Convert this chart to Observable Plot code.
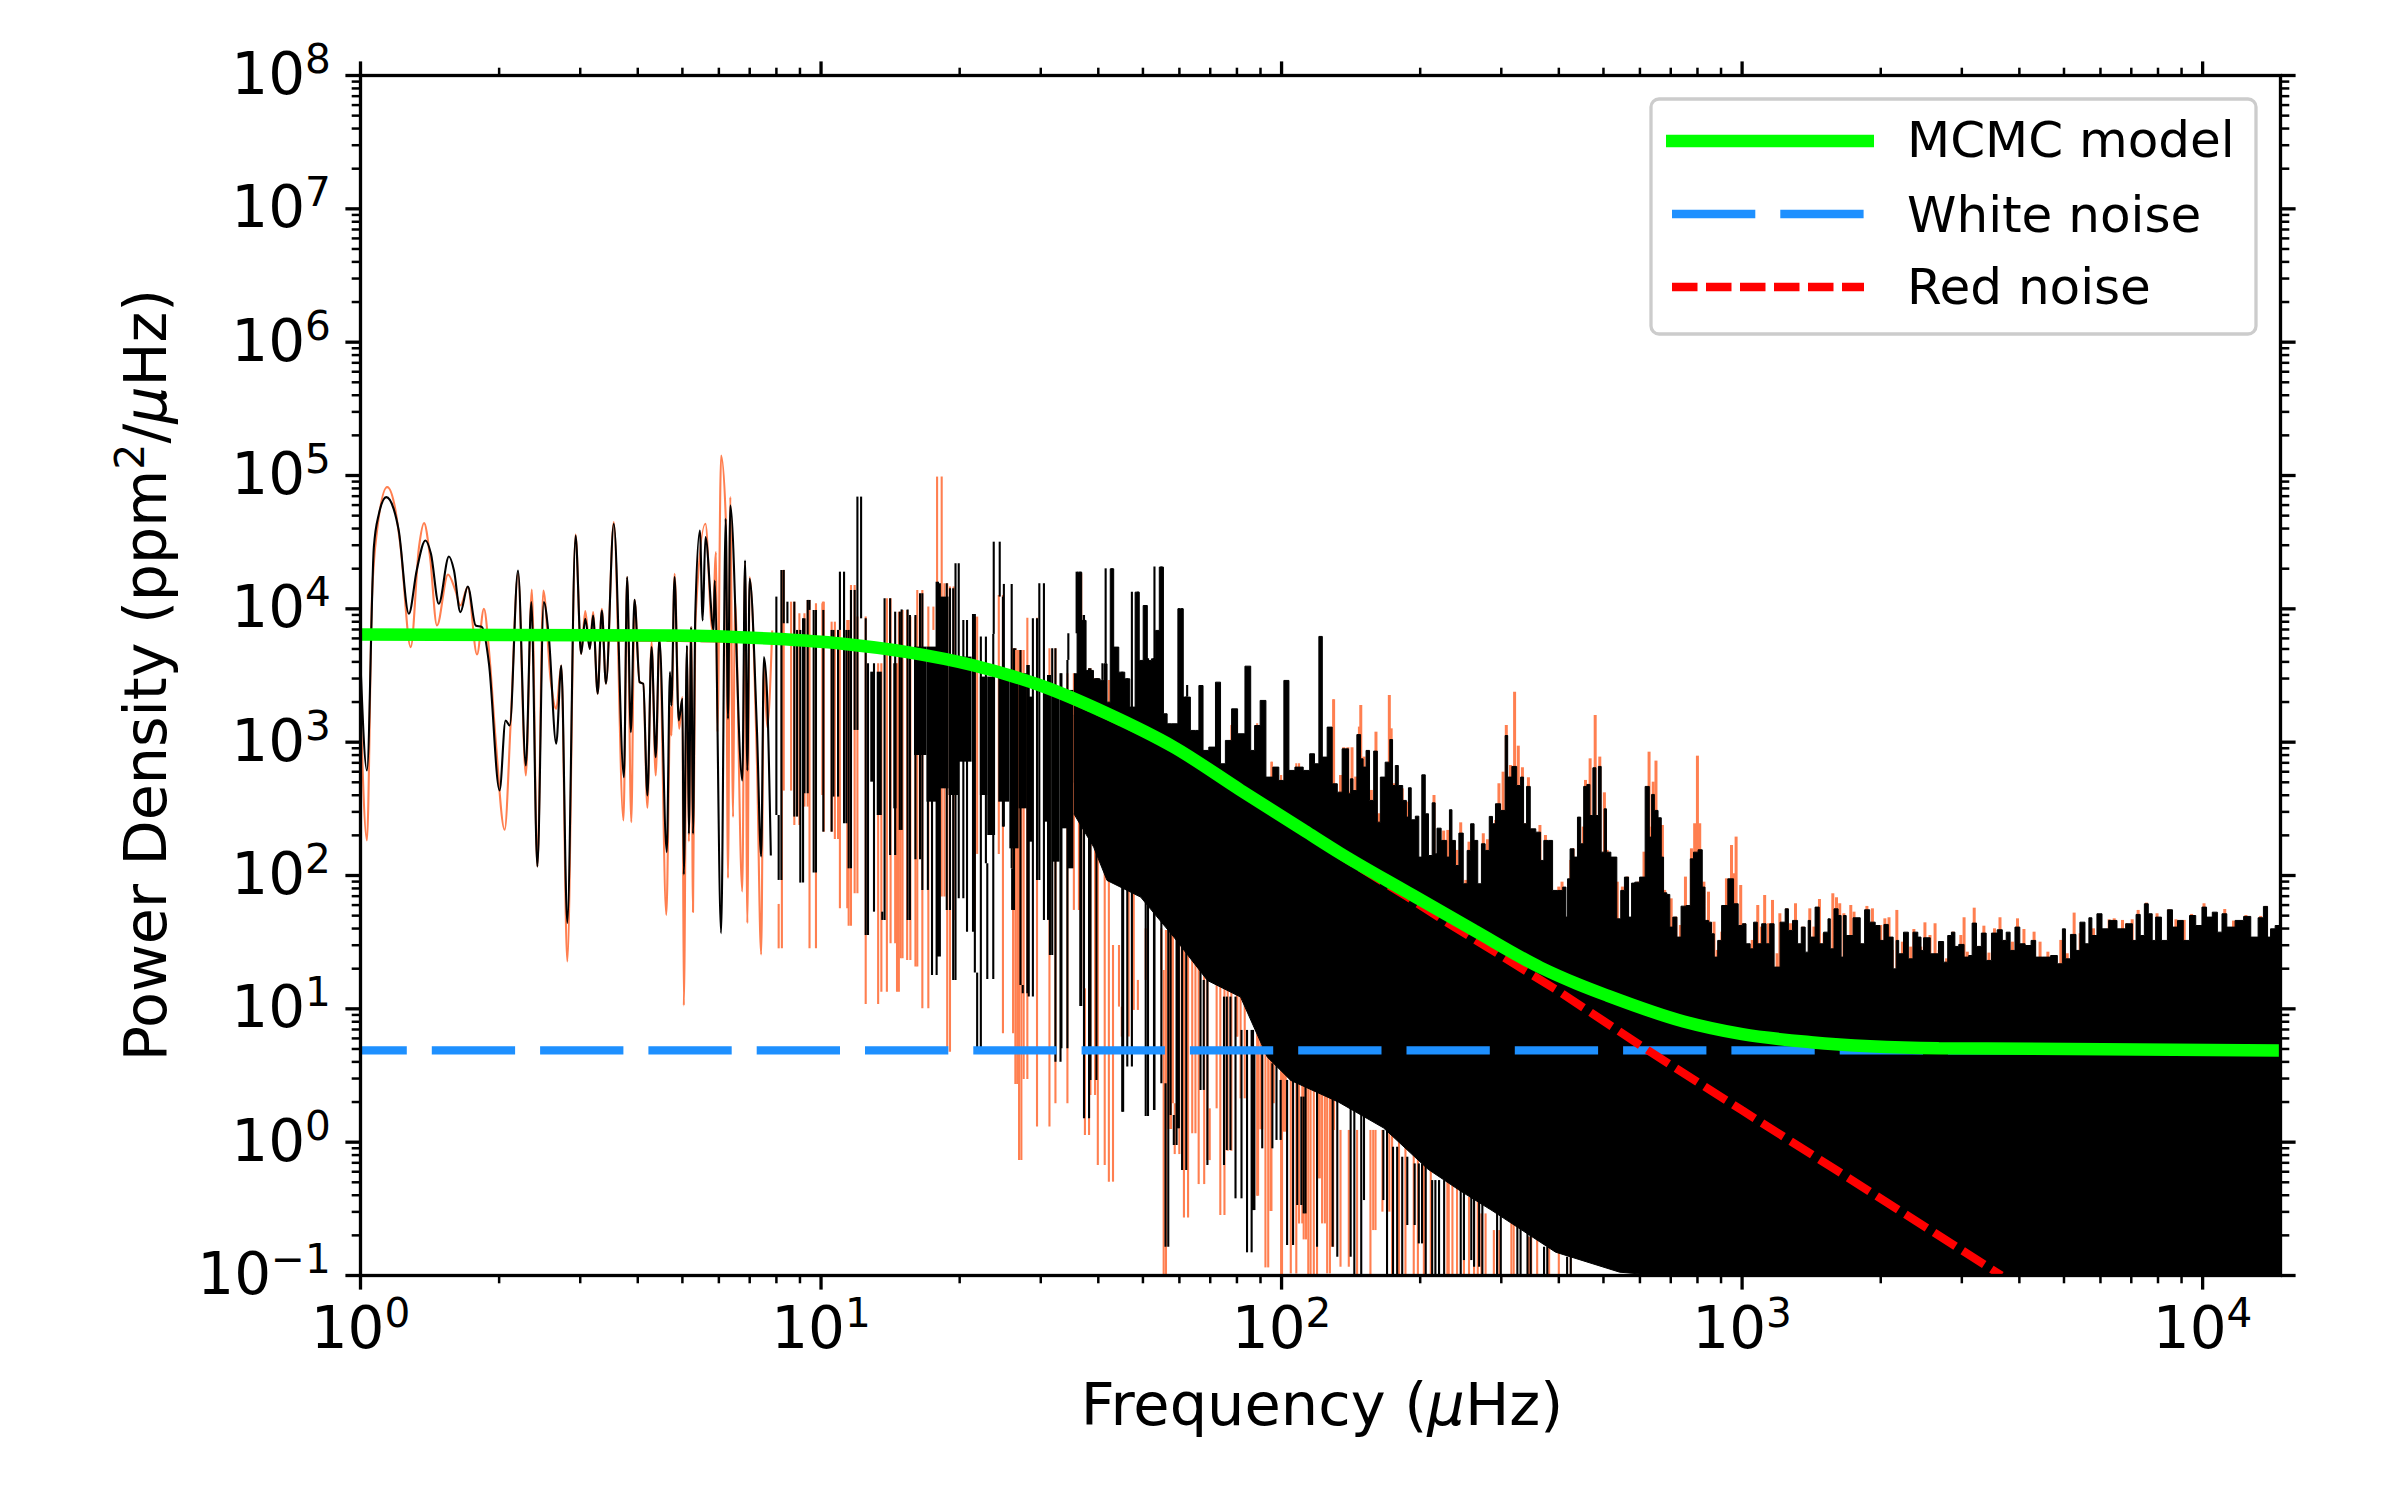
<!DOCTYPE html>
<html lang="en">
<head>
<meta charset="UTF-8">
<title>Power density spectrum</title>
<script src="https://cdn.jsdelivr.net/npm/d3@7"></script>
<script src="https://cdn.jsdelivr.net/npm/@observablehq/plot@0.6"></script>
<style>
  body { margin: 0; background: white; }
</style>
</head>
<body>
<div id="graph"></div>
<script>
// values, as [log10 frequency, log10 power]
const blackSpikes = [[0,3.588],[.014,2.788],[.029,4.463],[.04,4.713],[.056,4.838],[.072,4.75],[.083,4.588],[.105,3.963],[.122,4.288],[.141,4.513],[.153,4.413],[.17,4.038],[.192,4.393],[.203,4.288],[.217,3.975],[.233,4.168],[.25,3.875],[.264,3.863],[.279,3.588],[.302,2.638],[.315,3.163],[.324,3.125],[.342,4.288],[.359,2.825],[.371,4.05],[.384,2.068],[.398,4.05],[.409,3.788],[.425,2.988],[.436,3.575],[.449,1.643],[.467,4.55],[.479,3.663],[.488,3.925],[.498,3.7],[.505,3.95],[.515,3.363],[.524,3.988],[.533,3.438],[.55,4.638],[.572,2.738],[.579,4.238],[.587,3.075],[.595,4.068],[.606,3.45],[.614,3.438],[.623,2.6],[.632,3.713],[.641,2.888],[.649,3.775],[.665,2.175],[.672,3.525],[.675,3.275],[.682,4.238],[.691,3.163],[.699,3.325],[.702,2.008],[.709,3.725],[.713,2.313],[.718,3.863],[.722,2.313],[.727,3.963],[.737,4.588],[.743,3.913],[.749,4.538],[.767,3.838],[.769,4.213],[.783,1.568],[.793,4.675],[.798,3.175],[.803,4.775],[.829,2.713],[.835,4.363],[.84,2.788],[.845,4.225],[.861,3.075],[.87,2.143],[.876,3.638],[.883,3.338],[.891,2.15],[.903,4.088],[.908,2.45],[.914,1.963],[.919,4.288],[.927,3.888],[.942,4.05],[.948,2.438],[.955,3.838],[.961,1.943],[.964,3.925],[.971,2.613],[.975,4.063],[.984,3.988],[.989,2.018],[1.005,3.988],[1.023,2.325],[1.027,3.838],[1.037,2.588],[1.041,3.838],
  [1.05,4.275],[1.055,2.388],[1.06,3.838],[1.065,2.05],[1.073,4.138],[1.079,3.088],[1.087,4.838],[1.097,3.925],[1.102,1.55],[1.115,3.588],[1.133,1.725],[1.138,1.663],[1.15,4.075],[1.161,2.15],[1.171,3.975],[1.175,2.338],[1.188,3.992],[1.193,1.663],[1.205,3.95],[1.215,2.118],[1.22,4.113],[1.232,1.888],[1.241,3.588],[1.251,1.25],[1.254,4.2],[1.258,1.388],[1.273,4.188],[1.28,1.738],[1.287,4.15],[1.292,1.213],[1.299,4.338],[1.309,1.825],[1.317,3.913],[1.33,1.575],[1.334,3.958],[1.339,1.268],[1.347,.663],[1.358,3.788],[1.361,2.088],[1.374,1.22],[1.375,3.808],[1.388,4.5],[1.395,4.088],[1.397,2.363],[1.414,4.183],[1.415,2.05],[1.419,1.738],[1.422,3.7],[1.433,3.688],[1.438,1.175],[1.448,1.113],[1.451,3.575],[1.46,1.088],[1.469,3.925],[1.474,1.963],[1.484,4.188],[1.493,1.663],[1.497,3.5],[1.502,1.4],[1.509,3.7],[1.52,.6],[1.522,3.513],[1.535,.7],[1.537,3.613],[1.555,3.813],[1.563,4.275],[1.565,1.017],[1.571,3.95],[1.582,.175],[1.585,3.55],[1.598,.463],[1.601,3.475],[1.611,3.463],[1.618,3.588],[1.632,4.3],[1.654,3.525],[1.656,.225],[1.665,3.475],[1.675,.563],[1.688,4.125],[1.705,4.025],[1.71,.193],[1.723,3.625],[1.724,.238],[1.739,4.313],[1.748,.438],[1.754,-.788],[1.759,3],[1.766,.2],[1.772,-.025],[1.774,2.5],[1.777,.1],[1.784,4],[1.793,-.213],[1.795,3.338],[1.824,3.425],[1.831,.388],
  [1.839,1.213],[1.875,-.175],[1.881,1.088],[1.889,-.063],[1.9,1.088],[1.913,-.425],[1.925,.838],[1.935,-.83],[1.938,.838],[1.941,-.513],[1.958,.713],[1.98,-.05],[1.989,.588],[1.998,.013],[2.012,.463],[2.025,-.775],[2.034,.463],[2.043,-.475],[2.048,.338],[2.052,-.538],[2.077,.463],[2.111,-.788],[2.121,.463],[2.15,-.863],[2.158,.338],[2.173,-1],[2.179,.213],[2.221,-.438],[2.229,.088],[2.242,-1.013],[2.251,-.038],[2.262,-1.013],[2.273,-.113],[2.289,-.625],[2.298,-.163],[2.305,-.763],[2.313,-.163],[2.327,-1.013],[2.334,-.288],[2.342,-1.013],[2.353,-.288],[2.389,-1.01],[2.396,-.3],[2.412,-.888],[2.418,-.363],[2.429,-.938],[2.436,-.413],[2.468,-1.01],[2.476,-.463],[2.512,-1.01],[2.519,-.538],[2.534,-1.01],[2.541,-.663],[2.57,-1.01],[2.577,-.788],[2.62,-1.01],[2.628,-.863],[2.678,-1.01]];

const orangeSpikes = [[0,3.288],[.014,2.263],[.025,4.088],[.036,4.588],[.058,4.913],[.076,4.738],[.087,4.463],[.109,3.713],[.127,4.463],[.138,4.643],[.151,4.388],[.166,3.875],[.19,4.258],[.206,4.138],[.217,4.025],[.233,4.163],[.253,3.658],[.268,4],[.279,3.688],[.293,3.038],[.313,2.343],[.326,3.138],[.342,4.263],[.359,2.75],[.372,4.145],[.384,2.068],[.397,4.138],[.413,3.463],[.425,3.25],[.436,3.575],[.449,1.355],[.467,4.558],[.479,3.663],[.488,3.983],[.498,3.7],[.505,3.975],[.515,3.363],[.524,4],[.533,3.438],[.55,4.65],[.571,2.413],[.579,4.238],[.588,2.4],[.595,4.068],[.606,3.45],[.614,3.438],[.623,2.508],[.632,3.75],[.641,2.75],[.649,3.775],[.664,1.705],[.673,3.263],[.675,3.05],[.682,4.263],[.692,3.1],[.699,3.338],[.702,1.025],[.709,3.713],[.713,2.255],[.718,3.863],[.722,1.725],[.727,3.888],[.749,4.638],[.764,3.838],[.772,4.425],[.775,3.075],[.783,5.15],[.793,4.695],[.798,1.98],[.803,4.838],[.809,2.438],[.813,4.075],[.829,1.88],[.835,4.338],[.84,1.643],[.845,4.238],[.861,2.825],[.87,1.408],[.876,3.588],[.883,3.113],[.894,3.838],[.908,1.783],[.915,1.45],[.919,4.288],[.935,2.633],[.942,4.05],[.953,2.375],[.964,3.963],[.971,2.513],[.975,4.063],[.989,1.45],[1.003,4.038],[1.004,2.6],[1.006,4.05],[1.023,2.325],[1.03,3.9],[1.037,2.27],[1.041,3.838],[1.057,1.75],[1.06,3.913],[1.065,1.62],[1.073,4.175],[1.079,1.863],[1.097,3.938],[1.124,1.033],[1.131,3.588],[1.143,1.125],[1.151,4.075],[1.161,1.488],[1.165,3.588],[1.169,1.125],[1.173,3.975],[1.177,1.375],[1.187,3.988],[1.194,1.363],[1.205,3.938],[1.209,1.313],[1.22,4.138],[1.233,1],[1.244,4.013],[1.252,3.838],[1.262,4.988],[1.268,1.838],[1.274,4.188],[1.28,.675],[1.288,4.163],[1.334,1.663],[1.339,3.938],[1.386,2.158],[1.395,4.1],[1.417,.813],[1.422,3.7],[1.426,.433],[1.43,3.688],[1.435,-.138],[1.44,3.688],[1.448,.47],[1.469,3.93],[1.496,.113],[1.509,3.7],[1.535,.288],[1.549,3.513],[1.56,1.738],[1.565,4.263],[1.573,1.15],[1.582,.05],[1.585,3.55],[1.595,.35],[1.601,3.475],[1.616,-.175],[1.625,3.463],[1.634,-.3],[1.647,1.475],[1.653,1.013],[1.668,.788],[1.679,2.838],[1.688,.988],[1.705,1.213],[1.739,1.6],[1.744,1.288],[1.749,-1.013],[1.755,1.588],[1.76,.095],[1.764,1.588],[1.768,.288],[1.778,-.093],[1.788,1.588],[1.797,-.568],[1.806,1.588],[1.813,.063],[1.82,1.463],[1.832,-.318],[1.839,1.338],[1.844,-.138],[1.859,.25],[1.867,1.213],[1.876,-.55],[1.883,1.213],[1.891,-.068],[1.903,3.125],[1.904,.788],[1.911,1.088],[1.92,.325],[1.929,1.088],[1.947,3.138],[1.949,-.405],[1.954,.838],[1.958,.093],[1.965,.838],[1.971,-.943],[1.976,.713],[1.978,-.52],[1.979,2.85],[1.983,.288],[1.992,.713],[1.999,2.75],[2.001,-1.013],[2.005,.588],[2.009,.075],[2.02,.588],[2.032,-.988],[2.038,2.838],[2.045,-.613],[2.048,.463],[2.053,-.733],[2.058,.463],[2.063,-1.013],[2.07,.463],[2.077,-1.013],[2.08,.463],[2.083,-.275],[2.088,.463],[2.094,-.613],[2.099,.463],[2.105,-.988],[2.108,.463],[2.112,-.788],[2.114,3.318],
  [2.128,.088],[2.146,-.938],[2.164,.088],[2.193,-1.013],[2.199,.088],[2.204,-.663],[2.219,.088],[2.234,-.525],[2.24,.088],[2.255,-1.013],[2.269,.088],[2.287,-1.013],[2.296,-.038],[2.309,-1.013],[2.324,-.113],[2.36,-1.013],[2.363,-.288],[2.371,-1.013],[2.381,-.288],[2.396,-1.013],[2.407,-.413],[2.418,-1.013],[2.426,-.288],[2.434,-1.013],[2.443,-.538],[2.461,-1.013],[2.473,-.663],[2.499,-1.013],[2.504,-.463],[2.537,-1.013],[2.542,-.713],[2.555,-1.013],[2.581,-.538],[2.602,-1.013],[2.628,-.713],[2.686,-1.013]];

// upper edge of the solid part of the spectrum
const blackTop = [[1.549,3.513],[1.563,4.275],[1.569,3.913],[1.582,3.538],[1.601,3.475],[1.611,3.463],[1.618,3.588],[1.624,3.3],[1.632,4.3],[1.639,3.713],[1.654,3.525],[1.665,3.475],[1.676,3.263],[1.688,4.125],[1.694,3.613],[1.705,4.025],[1.712,3.613],[1.723,3.625],[1.73,3.838],[1.739,4.313],[1.748,3.213],[1.755,3.138],[1.766,3.138],[1.784,4],[1.789,3.338],[1.795,3.338],[1.809,3.088],[1.817,3.088],[1.824,3.425],[1.835,2.938],[1.849,2.963],[1.864,3.45],[1.871,2.838],[1.885,3.013],[1.898,3.25],[1.911,3.063],[1.93,3.57],[1.936,2.938],[1.947,3.125],[1.96,3.313],[1.972,2.738],[1.99,2.813],[1.998,2.713],[2.012,3.463],[2.02,2.788],[2.038,2.813],[2.056,2.788],[2.066,2.913],[2.077,2.838],[2.085,3.793],[2.092,2.888],[2.106,3.113],[2.114,2.688],
  [2.128,2.625],[2.135,2.95],[2.144,2.95],[2.147,2.613],[2.152,2.725],[2.158,2.637],[2.169,3.057],[2.174,2.875],[2.18,2.813],[2.187,2.938],[2.195,2.563],[2.205,2.933],[2.211,2.4],[2.218,2.738],[2.232,2.85],[2.238,3.02],[2.244,2.675],[2.25,2.825],[2.257,2.675],[2.269,2.563],[2.273,2.438],[2.278,2.658],[2.285,2.418],[2.296,2.445],[2.3,2.138],[2.309,2.755],[2.315,2.463],[2.323,2.15],[2.331,2.545],[2.336,2.163],[2.339,2.355],[2.354,2.263],[2.363,2.138],[2.366,2.493],[2.374,2.263],[2.381,2.075],[2.389,2.318],[2.4,1.938],[2.406,2.188],[2.415,2.388],[2.421,2.263],[2.431,1.938],[2.437,2.238],[2.447,2.188],[2.455,2.443],[2.461,2.388],[2.468,2.538],[2.483,2.488],[2.488,3.05],[2.494,2.738],[2.506,2.818],[2.515,2.675],[2.523,2.738],[2.528,2.388],[2.536,2.668],[2.544,2.35],[2.56,2.325],[2.565,2.113],[2.574,2.263],[2.586,2.263],[2.591,1.888],[2.606,1.888],[2.615,1.913],[2.62,1.688],[2.622,1.975],[2.631,2.2],[2.639,2.138],[2.646,2.438],[2.653,2.238],[2.659,2.668],[2.667,2.683],[2.672,2.45],[2.68,2.808],[2.685,2.45],[2.691,2.818],[2.697,2.175],[2.704,2.5],[2.707,2.175],[2.723,2.138],[2.733,1.675],[2.74,1.888],[2.749,1.988],[2.758,1.688],[2.762,1.943],[2.772,1.95],[2.783,1.988],[2.796,2.668],[2.801,2.288],[2.806,2.608],[2.813,2.488],[2.822,2.433],[2.827,2.138],[2.832,1.87],[2.841,1.858],[2.845,1.613],[2.854,1.688],[2.863,1.538],[2.872,1.77],[2.885,1.775],[2.89,2.125],[2.899,2.175],[2.91,2.193],[2.917,1.913],[2.922,1.663],[2.932,1.65],[2.935,1.563],[2.944,1.388],[2.95,1.513],[2.961,1.775],[2.977,1.975],[2.986,1.788],[2.997,1.625],[3.004,1.638],[3.013,1.488],[3.022,1.45],[3.028,1.65],[3.038,1.488],[3.047,1.638],[3.057,1.488],[3.063,1.638],[3.076,1.313],[3.089,1.65],[3.098,1.75],[3.103,1.588],[3.116,1.663],[3.125,1.488],[3.132,1.613],[3.142,1.425],[3.145,1.663],[3.152,1.538],[3.165,1.763],[3.17,1.488],
  [3.184,1.575],[3.189,1.675],[3.194,1.45],[3.205,1.75],[3.212,1.7],[3.218,1.388],[3.222,1.7],[3.23,1.55],[3.252,1.683],[3.261,1.488],[3.271,1.743],[3.283,1.65],[3.295,1.625],[3.304,1.513],[3.312,1.633],[3.323,1.538],[3.333,1.3],[3.336,1.513],[3.344,1.413],[3.357,1.575],[3.365,1.375],[3.377,1.575],[3.386,1.538],[3.391,1.438],[3.397,1.533],[3.42,1.413],[3.433,1.505],[3.442,1.35],[3.451,1.55],[3.458,1.575],[3.466,1.468],[3.475,1.483],[3.489,1.388],[3.495,1.4],[3.504,1.643],[3.514,1.468],[3.525,1.568],[3.535,1.363],[3.548,1.568],[3.56,1.593],[3.57,1.513],[3.577,1.575],[3.587,1.438],[3.598,1.613],[3.608,1.488],[3.621,1.475],[3.634,1.513],[3.641,1.388],[3.663,1.388],[3.677,1.4],[3.692,1.338],[3.699,1.6],[3.705,1.375],[3.721,1.558],[3.729,1.438],[3.738,1.65],[3.751,1.488],[3.755,1.683],[3.764,1.55],[3.777,1.713],[3.786,1.6],[3.806,1.663],[3.822,1.6],[3.844,1.638],[3.851,1.513],[3.86,1.708],[3.869,1.55],[3.878,1.788],[3.886,1.713],[3.895,1.513],[3.901,1.688],[3.92,1.513],[3.927,1.743],[3.942,1.613],[3.949,1.663],[3.967,1.513],[3.976,1.7],[3.994,1.625],[4.003,1.763],[4.014,1.688],[4.028,1.725],[4.036,1.575],[4.048,1.713],[4.057,1.613],[4.084,1.663],[4.094,1.693],[4.115,1.538],[4.126,1.683],[4.138,1.768],[4.144,1.538],[4.151,1.6],[4.164,1.625],[4.173,1.625]];

const orangeTop = [[2.128,2.75],[2.135,2.958],[2.144,2.958],[2.147,2.625],[2.153,2.958],[2.161,2.738],[2.169,3.113],[2.172,3.275],[2.179,2.888],[2.195,2.638],[2.205,3.075],[2.211,2.463],[2.234,3.35],[2.238,3.1],[2.244,2.688],[2.262,2.65],[2.273,2.55],[2.331,2.6],[2.352,2.333],[2.361,2.338],[2.381,2.188],[2.389,2.395],[2.4,1.963],[2.407,2.25],[2.438,2.313],[2.447,2.268],[2.465,2.413],[2.472,2.688],[2.481,2.775],[2.488,3.125],[2.497,2.825],[2.506,3.375],[2.514,2.97],[2.523,2.808],[2.528,2.388],[2.536,2.733],[2.561,2.375],[2.573,2.3],[2.602,1.913],[2.609,1.95],[2.628,2.113],[2.633,2.2],[2.655,2.363],[2.66,2.713],[2.67,2.875],[2.681,3.2],[2.691,2.888],[2.701,2.62],[2.707,2.188],[2.729,1.95],[2.74,1.913],[2.751,1.988],[2.774,1.95],[2.787,2.175],[2.798,2.925],[2.803,2.363],[2.807,2.7],[2.813,2.858],[2.827,2.375],[2.832,1.888],[2.846,1.825],[2.856,1.688],[2.866,1.625],[2.877,1.988],[2.885,1.775],[2.89,2.2],[2.897,2.388],[2.903,2.895],[2.908,2.388],[2.917,1.95],[2.927,1.875],[2.939,1.65],[2.946,1.438],[2.956,1.575],[2.966,1.975],[2.977,2.225],[2.982,2.013],[2.987,2.288],[2.997,1.925],[3.005,1.638],[3.022,1.513],[3.034,1.775],[3.042,1.613],[3.049,1.85],[3.057,1.638],[3.066,1.813],[3.076,1.413],[3.082,1.713],[3.097,1.75],[3.105,1.638],[3.116,1.788],[3.132,1.613],[3.147,1.75],[3.156,1.613],[3.168,1.82],[3.178,1.563],
  [3.197,1.863],[3.205,1.833],[3.212,1.788],[3.221,1.713],[3.228,1.55],[3.236,1.775],[3.243,1.725],[3.257,1.488],[3.271,1.768],[3.283,1.75],[3.289,1.613],[3.301,1.625],[3.31,1.675],[3.319,1.683],[3.326,1.438],[3.336,1.738],[3.348,1.5],[3.366,1.463],[3.373,1.595],[3.388,1.463],[3.397,1.645],[3.408,1.55],[3.419,1.638],[3.428,1.438],[3.444,1.375],[3.458,1.575],[3.475,1.55],[3.482,1.683],[3.489,1.425],[3.504,1.755],[3.514,1.468],[3.525,1.62],[3.536,1.418],[3.548,1.6],[3.56,1.683],[3.57,1.513],[3.587,1.5],[3.598,1.675],[3.612,1.595],[3.634,1.575],[3.647,1.5],[3.664,1.425],[3.692,1.513],[3.706,1.413],[3.721,1.718],[3.734,1.563],[3.763,1.6],[3.797,1.668],[3.808,1.675],[3.826,1.663],[3.835,1.638],[3.847,1.668],[3.86,1.738],[3.869,1.55],[3.878,1.793],[3.901,1.713],[3.927,1.743],[3.942,1.668],[3.96,1.663],[3.976,1.708],[4.003,1.788],[4.048,1.745],[4.067,1.658],[4.094,1.7],[4.126,1.693],[4.138,1.768],[4.173,1.625]];

// lower edge of the solid part, left to right, and two levels well inside it
const solidBottom = [[1.549,2.463],[1.592,2.213],[1.621,1.963],[1.694,1.838],[1.766,1.538],[1.839,1.213],[1.911,1.088],[1.969,.638],[2.02,.463],[2.124,.3],[2.221,.108],[2.318,-.203],[2.387,-.363],[2.457,-.513],[2.595,-.825],[2.734,-.975],[2.816,-1],[4.173,-1]];
const solidInner = [[1.549,2.7],[1.7,2.5],[1.9,2],[2.1,1.4],[2.4,.9],[2.8,.5],[4.173,.5]];
const solidUpper = [[1.549,3.2],[1.75,2.9],[1.87,2.7],[2.2,2.2],[2.4,1.8],[2.9,1.3],[4.173,1.2]];

// solid bundles of lines left of the main mass: [log f from, log f to, log P top, log P bottom]
const solidBundles = [[1.108,1.118,3.525,2.7],[1.122,1.133,3.525,2.45],[1.158,1.165,3.588,2.5],[1.203,1.23,3.713,2.9],[1.23,1.259,3.713,2.55],[1.259,1.278,4.088,2.65],[1.278,1.3,3.638,2.6],[1.3,1.328,3.638,2.85],[1.346,1.362,3.488,2.6],[1.362,1.379,3.488,2.3],[1.386,1.41,3.513,2.55],[1.41,1.43,3.513,2.2],[1.43,1.448,3.513,2.5],[1.451,1.46,3.338,2.25],[1.484,1.495,3.363,2.4],[1.502,1.519,3.388,2.1],[1.524,1.537,3.388,2.35],[1.537,1.549,3.388,2.05]];

const modelCurve = [[0,3.807],[.68,3.8],[.898,3.775],[1.042,3.74],[1.187,3.675],[1.332,3.575],[1.477,3.425],[1.621,3.215],[1.766,2.963],[1.911,2.64],[2.05,2.335],[2.128,2.165],[2.273,1.875],[2.418,1.588],[2.562,1.31],[2.64,1.19],[2.707,1.1],[2.873,.905],[3,.81],[3.149,.75],[3.427,.705],[4.173,.688]];
const redNoise = [[0,3.807],[.898,3.775],[1.042,3.738],[1.187,3.675],[1.332,3.575],[1.477,3.425],[1.621,3.2],[1.766,2.963],[1.911,2.64],[2.056,2.33],[2.128,2.15],[2.273,1.84],[2.352,1.663],[2.476,1.4],[2.599,1.138],[2.803,.672],[3,.239],[3.2,-.2],[3.563,-1]];
const whiteNoise = [[0,.688],[4.173,.688]];

const xMajor = [1, 10, 100, 1000, 10000];
const yMajor = [0.1, 1, 10, 100, 1000, 1e4, 1e5, 1e6, 1e7, 1e8];
const minorSteps = [2, 3, 4, 5, 6, 7, 8, 9];
const xMinor = xMajor.slice(0, 4).flatMap(d => minorSteps.map(m => m * d));
const yMinor = yMajor.slice(0, 9).flatMap(d => minorSteps.map(m => m * d));

const colors = { spectrum: "#000000", raw: "#ff7f50", model: "#00ff00", white: "#1e90ff", red: "#ff0000" };

const rows = pairs => pairs.map(([f, p]) => ({ f: 10 ** f, p: 10 ** p }));
const polygon = (top, bottom) => rows(top.concat(bottom.slice().reverse()));

// below this log frequency the spectrum is resolved as a curve, above it as vertical lines
const resolvedTo = 0.9;
const curvePart = pairs => rows(pairs.filter(d => d[0] < resolvedTo));
const spikePart = pairs => d3.pairs(rows(pairs.filter(d => d[0] >= resolvedTo))).map(([a, b]) => ({ f: a.f, p1: a.p, p2: b.p }));

// "10|3" is split into base and exponent once the axis is drawn
const expFormat = d => "10|" + Math.round(Math.log10(d)).toString().replace("-", "\u2212");
const blank = () => "";

const axes = [];
for (const anchor of ["bottom", "top"]) {
  axes.push(Plot.axisX({ anchor, ticks: xMinor, tickSize: 8.3, strokeWidth: 2.5, tickFormat: blank, label: null }));
  axes.push(Plot.axisX({ anchor, ticks: xMajor, tickSize: 14.6, strokeWidth: 3.3, label: null, tickPadding: 17, fontSize: 58,
    tickFormat: anchor === "bottom" ? expFormat : blank }));
}
for (const anchor of ["left", "right"]) {
  axes.push(Plot.axisY({ anchor, ticks: yMinor, tickSize: 8.3, strokeWidth: 2.5, tickFormat: blank, label: null }));
  axes.push(Plot.axisY({ anchor, ticks: yMajor, tickSize: 14.6, strokeWidth: 3.3, label: null, tickPadding: 15, fontSize: 58,
    tickFormat: anchor === "left" ? expFormat : blank }));
}

const lineOpts = { x: "f", y: "p", clip: true, strokeLinecap: "butt", strokeLinejoin: "miter" };
const spikeOpts = { x: "f", y1: "p1", y2: "p2", clip: true, strokeWidth: 2.1 };

const chart = Plot.plot({
  width: 2400,
  height: 1500,
  marginLeft: 360,
  marginRight: 120,
  marginTop: 75,
  marginBottom: 225,
  style: { fontFamily: "DejaVu Sans", background: "white", color: "black" },
  x: { type: "log", domain: [1, 14760] },
  y: { type: "log", domain: [0.1, 1e8] },
  marks: [
    Plot.ruleX(rows(orangeTop), { x: "f", y1: 20, y2: "p", stroke: colors.raw, strokeWidth: 3, clip: true }),
    Plot.line(curvePart(orangeSpikes), { ...lineOpts, stroke: colors.raw, strokeWidth: 2.1, curve: "monotone-x" }),
    Plot.ruleX(spikePart(orangeSpikes), { ...spikeOpts, stroke: colors.raw }),
    // bar-like upper edge, straight lower edge
    Plot.line(polygon(blackTop, solidInner), { ...lineOpts, fill: colors.spectrum, stroke: colors.spectrum, strokeWidth: 1, curve: "step" }),
    Plot.line(polygon(solidUpper, solidBottom), { ...lineOpts, fill: colors.spectrum, stroke: colors.spectrum, strokeWidth: 1 }),
    Plot.rect(solidBundles, { x1: d => 10 ** d[0], x2: d => 10 ** d[1], y1: d => 10 ** d[3], y2: d => 10 ** d[2], fill: colors.spectrum, clip: true }),
    Plot.line(curvePart(blackSpikes), { ...lineOpts, stroke: colors.spectrum, strokeWidth: 2.1, curve: "monotone-x" }),
    Plot.ruleX(spikePart(blackSpikes), { ...spikeOpts, stroke: colors.spectrum }),
    Plot.line(rows(whiteNoise), { ...lineOpts, stroke: colors.white, strokeWidth: 8.3, strokeDasharray: "83.3 25", strokeDashoffset: 37 }),
    Plot.line(rows(redNoise), { ...lineOpts, stroke: colors.red, strokeWidth: 8.3, strokeDasharray: "25.5 8.5" }),
    Plot.line(rows(modelCurve), { ...lineOpts, stroke: colors.model, strokeWidth: 12.5, curve: "monotone-x" }),
    ...axes,
    Plot.frame({ stroke: "black", strokeWidth: 3.3 })
  ]
});

document.querySelector("#graph").append(chart);

const svg = d3.select(chart);

// tick labels: base and raised exponent
svg.selectAll("text").each(function () {
  const parts = this.textContent.split("|");
  if (parts.length !== 2) return;
  const t = d3.select(this).text("");
  t.append("tspan").text(parts[0]);
  t.append("tspan").attr("font-size", 40.6).attr("dy", -21).text(parts[1]);
});

// axis titles
const title = svg.append("text").attr("font-size", 59).attr("fill", "black")
  .attr("text-anchor", "middle").attr("x", 1322).attr("y", 1425);
title.append("tspan").text("Frequency (");
title.append("tspan").attr("font-style", "italic").text("\u03bc");
title.append("tspan").text("Hz)");

const ytitle = svg.append("text").attr("font-size", 58.6).attr("fill", "black")
  .attr("text-anchor", "middle").attr("transform", "translate(166,675) rotate(-90)");
ytitle.append("tspan").text("Power Density (ppm");
ytitle.append("tspan").attr("font-size", 41).attr("dy", -22).text("2");
ytitle.append("tspan").attr("dy", 22).text("/");
ytitle.append("tspan").attr("font-style", "italic").text("\u03bc");
ytitle.append("tspan").text("Hz)");

// legend inside the axes
const legend = svg.append("g");
legend.append("rect").attr("x", 1651).attr("y", 99).attr("width", 605).attr("height", 235).attr("rx", 8)
  .attr("fill", "white").attr("fill-opacity", 0.8).attr("stroke", "#cccccc").attr("stroke-width", 3.3);
const legendRows = [
  { name: "MCMC model", y: 141, base: 157, x1: 1666, x2: 1874, color: colors.model, width: 12.5, dash: null },
  { name: "White noise", y: 214, base: 232, x1: 1672, x2: 1864, color: colors.white, width: 8.3, dash: "83.3 25" },
  { name: "Red noise", y: 287, base: 304, x1: 1672, x2: 1864, color: colors.red, width: 8.3, dash: "25.5 8.5" }
];
for (const r of legendRows) {
  legend.append("line").attr("x1", r.x1).attr("x2", r.x2).attr("y1", r.y).attr("y2", r.y)
    .attr("stroke", r.color).attr("stroke-width", r.width).attr("stroke-dasharray", r.dash);
  legend.append("text").attr("x", 1907).attr("y", r.base).attr("font-size", 50).attr("fill", "black")
    .attr("text-anchor", "start").text(r.name);
}
</script>
</body>
</html>
